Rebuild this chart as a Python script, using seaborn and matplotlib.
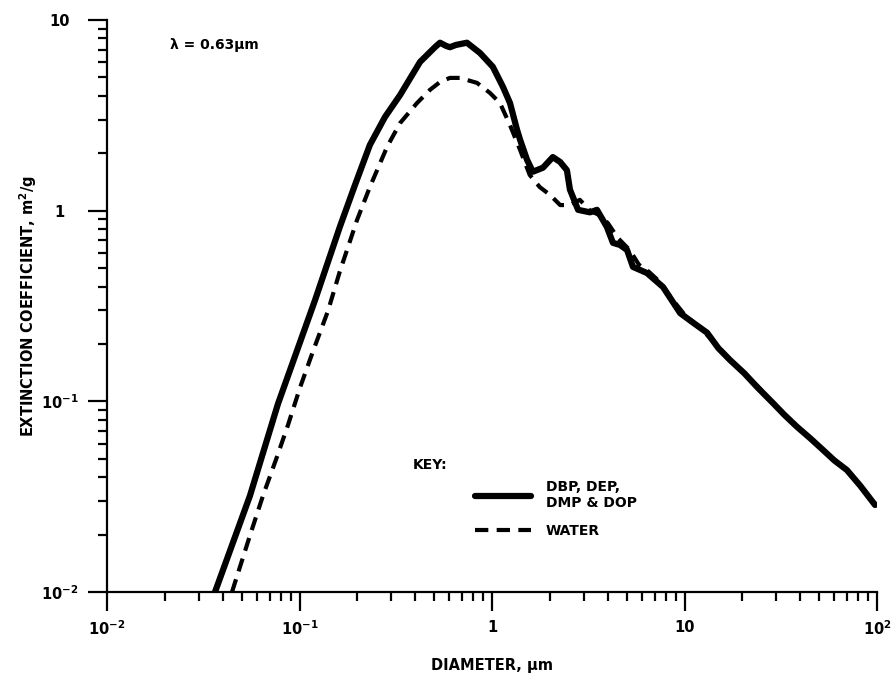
import matplotlib
matplotlib.use("Agg")
import matplotlib.pyplot as plt
from matplotlib.lines import Line2D
import seaborn as sns
import pandas as pd

# ---- data ----
solid_x = [0.0364, 0.0553, 0.0773, 0.1205, 0.162, 0.194, 0.232, 0.278, 0.333, 0.423, 0.506, 0.537,
           0.58, 0.605, 0.65, 0.741, 0.867, 1.01, 1.14, 1.24, 1.35, 1.40, 1.52, 1.63, 1.84,
           2.07, 2.26, 2.45, 2.54, 2.80, 3.23, 3.51, 3.95, 4.25, 4.62, 5.03, 5.40, 6.38, 7.73,
           9.5, 11.0, 13.1, 15.0, 17.2, 20.5, 23.8, 28.8, 33.0, 38.4, 45.0, 52.4, 60.0, 69.8,
           82.0, 97.7]
solid_y = [0.01, 0.032, 0.097, 0.34, 0.822, 1.36, 2.21, 3.10, 4.04, 6.03, 7.21, 7.6,
           7.3, 7.2, 7.4, 7.6, 6.71, 5.68, 4.46, 3.67, 2.65, 2.35, 1.85, 1.60, 1.68,
           1.91, 1.80, 1.63, 1.29, 1.01, 0.98, 1.01, 0.822, 0.678, 0.661, 0.622, 0.507, 0.471, 0.398,
           0.29, 0.26, 0.229, 0.19, 0.165, 0.14, 0.119, 0.098, 0.085, 0.0735, 0.064, 0.0556, 0.049,
           0.0436, 0.036, 0.0286]

water_x = [0.0446, 0.0553, 0.0646, 0.0763, 0.0871, 0.1006, 0.1175, 0.1406, 0.162, 0.199, 0.232,
           0.285, 0.333, 0.408, 0.476, 0.54, 0.605, 0.68, 0.836, 0.977, 1.10, 1.24, 1.40, 1.57,
           1.77, 2.0, 2.26, 2.54, 2.86, 3.23, 3.6, 4.0, 4.5, 5.2, 5.8, 6.5, 7.5, 8.5, 10.0, 13.0,
           17.0, 24.0, 29.0, 38.0, 52.0, 70.0, 98.0]
water_y = [0.01, 0.0198, 0.032, 0.051, 0.075, 0.118, 0.183, 0.298, 0.48, 0.893, 1.33,
           2.16, 2.88, 3.67, 4.30, 4.75, 4.97, 4.97, 4.68, 4.14, 3.67, 2.81, 2.08, 1.54,
           1.33, 1.21, 1.07, 1.07, 1.14, 1.0, 0.95, 0.86, 0.72, 0.62, 0.52, 0.48, 0.42, 0.35, 0.285,
           0.225, 0.168, 0.12, 0.097, 0.075, 0.056, 0.043, 0.029]

x_ticks = [0.01, 0.1, 1, 10, 100]
x_tick_labels = [r"$10^{-2}$", r"$10^{-1}$", "1", "10", r"$10^{2}$"]
y_ticks = [0.01, 0.1, 1, 10]
y_tick_labels = [r"$10^{-2}$", r"$10^{-1}$", "1", "10"]

key_labels = ["DBP, DEP,\nDMP & DOP", "WATER"]

# ---- styling ----
sns.set_style("ticks")
plt.rcParams["font.family"] = ["DejaVu Sans"]
plt.rcParams["font.weight"] = "bold"
plt.rcParams["mathtext.default"] = "bf"
plt.rcParams["text.color"] = "black"
plt.rcParams["axes.labelcolor"] = "black"
plt.rcParams["xtick.color"] = "black"
plt.rcParams["ytick.color"] = "black"
plt.rcParams["xtick.labelcolor"] = "black"
plt.rcParams["ytick.labelcolor"] = "black"

fig = plt.figure(figsize=(8.96, 6.78), dpi=100)
ax = fig.add_axes([107 / 896, 86 / 678, 770 / 896, 572 / 678])

df_s = pd.DataFrame({"x": solid_x, "y": solid_y})
df_w = pd.DataFrame({"x": water_x, "y": water_y})

sns.lineplot(data=df_w, x="x", y="y", ax=ax, color="black", lw=3.0,
             linestyle=(0, (3.2, 2.0)), estimator=None, sort=False)
sns.lineplot(data=df_s, x="x", y="y", ax=ax, color="black", lw=4.5,
             estimator=None, sort=False, solid_capstyle="round", solid_joinstyle="round")

ax.set_xscale("log")
ax.set_yscale("log")
ax.set_xlim(0.01, 100)
ax.set_ylim(0.01, 10)

for side in ["top", "right"]:
    ax.spines[side].set_visible(False)
for side in ["left", "bottom"]:
    ax.spines[side].set_linewidth(1.6)
    ax.spines[side].set_color("black")

ax.set_xticks(x_ticks)
ax.set_xticklabels(x_tick_labels)
ax.set_yticks(y_ticks)
ax.set_yticklabels(y_tick_labels)
ax.xaxis.set_minor_formatter(matplotlib.ticker.NullFormatter())
ax.yaxis.set_minor_formatter(matplotlib.ticker.NullFormatter())

ax.tick_params(axis="both", which="major", direction="out", length=14, width=1.6,
               labelsize=10.5, color="black", labelcolor="black")
ax.tick_params(axis="both", which="minor", direction="out", length=6.5, width=1.6, color="black")
ax.tick_params(axis="x", which="major", pad=6)
ax.tick_params(axis="y", which="major", pad=20)
for lab in ax.get_yticklabels():
    lab.set_horizontalalignment("center")

ax.set_xlabel("DIAMETER, μm", fontsize=10.5, fontweight="bold", labelpad=14, color="black")
ax.set_ylabel("EXTINCTION COEFFICIENT, m$^{2}$/g", fontsize=10.5, fontweight="bold", color="black")
ax.yaxis.set_label_coords(-0.088, 0.5)

ax.text(0.082, 0.956, "λ = 0.63μm", transform=ax.transAxes, fontsize=10,
        fontweight="bold", ha="left", va="center", color="black")

ax.text(0.397, 0.222, "KEY:", transform=ax.transAxes, fontsize=10,
        fontweight="bold", ha="left", va="center", color="black")
handles = [Line2D([], [], color="black", lw=4.5),
           Line2D([], [], color="black", lw=3.0, linestyle=(0, (3.2, 2.0)))]
leg = ax.legend(handles, key_labels, loc="upper left", bbox_to_anchor=(0.478, 0.196),
                frameon=False, handlelength=4.0, handletextpad=1.1,
                borderpad=0, borderaxespad=0, labelspacing=1.0,
                prop={"weight": "bold", "size": 10})
for t in leg.get_texts():
    t.set_color("black")

fig.savefig("out.png", dpi=100)
